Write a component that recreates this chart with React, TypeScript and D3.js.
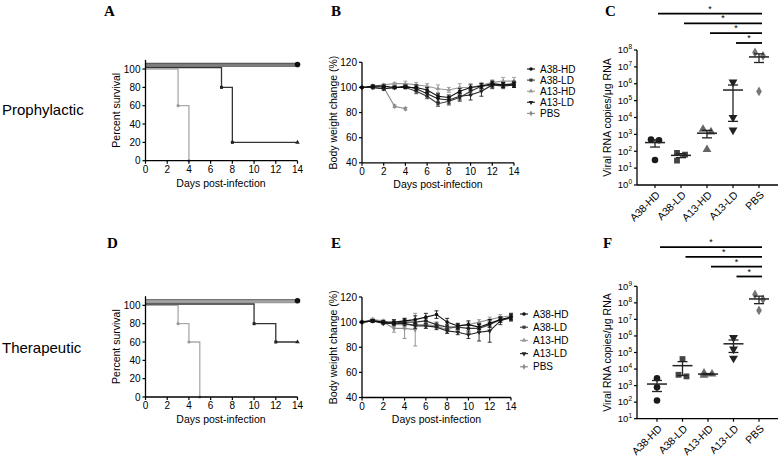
import React from "react";
import * as d3 from "d3";

const groups = ["A38-HD", "A38-LD", "A13-HD", "A13-LD", "PBS"];
const days = [0, 1, 2, 3, 4, 5, 6, 7, 8, 9, 10, 11, 12, 13, 14];
const pbsDaysPro = [0, 1, 2, 3, 4];
const pbsDaysThe = [0, 1, 2, 3, 4, 5];
const dayTicks = [0, 2, 4, 6, 8, 10, 12, 14];
const survivalTicks = [0, 20, 40, 60, 80, 100];
const weightTicks = [40, 60, 80, 100, 120];

// survival steps (day of event, percent alive)
const survAllDays = [0, 14];
const survAllPct = [100, 100];
const survProA13LDDays = [0, 7, 8, 14];
const survProA13LDPct = [100, 80, 20, 20];
const survProPBSDays = [0, 3, 4];
const survProPBSPct = [100, 60, 0];
const survTheA13LDDays = [0, 10, 12, 14];
const survTheA13LDPct = [100, 80, 60, 60];
const survThePBSDays = [0, 3, 4, 5];
const survThePBSPct = [100, 80, 60, 0];

// body weight change (%), prophylactic
const bwProA38HD = [100, 101, 101, 100, 100, 100, 98, 93, 92, 97, 100, 101, 103, 102, 102];
const bwProA38LD = [100, 100, 99, 100, 100, 97, 93, 87, 89, 92, 97, 101, 102, 101, 102];
const bwProA13HD = [100, 101, 102, 103, 103, 102, 101, 99, 98, 100, 100, 102, 104, 105, 105];
const bwProA13LD = [100, 100, 99, 100, 101, 99, 95, 91, 90, 93, 94, 97, 102, 102, 103];
const bwProPBS = [100, 101, 100, 85, 83];
const bwProA38HDErr = [0, 1, 1, 1, 1, 2, 2, 2, 2, 2, 2, 2, 2, 2, 2];
const bwProA38LDErr = [0, 1, 1, 1, 1, 2, 2, 2, 3, 3, 3, 2, 2, 2, 2];
const bwProA13HDErr = [0, 1, 1, 1, 2, 2, 2, 3, 2, 3, 3, 2, 2, 3, 3];
const bwProA13LDErr = [0, 1, 1, 1, 1, 2, 2, 3, 3, 3, 4, 4, 3, 2, 2];
const bwProPBSErr = [0, 1, 1, 1, 1];

// body weight change (%), therapeutic
const bwTheA38HD = [100, 101, 100, 100, 101, 102, 104, 106, 100, 97, 98, 96, 99, 102, 104];
const bwTheA38LD = [100, 101, 100, 99, 100, 100, 101, 98, 96, 96, 95, 95, 98, 102, 103];
const bwTheA13HD = [100, 102, 101, 98, 98, 98, 98, 97, 94, 97, 98, 100, 102, 104, 105];
const bwTheA13LD = [100, 101, 99, 99, 99, 97, 97, 96, 93, 92, 90, 92, 93, 101, 104];
const bwThePBS = [100, 102, 100, 95, 95, 94];
const bwTheA38HDErr = [0, 1, 1, 2, 2, 3, 3, 3, 3, 2, 3, 2, 3, 2, 2];
const bwTheA38LDErr = [0, 1, 1, 2, 2, 2, 2, 2, 2, 2, 3, 3, 2, 2, 2];
const bwTheA13HDErr = [0, 1, 1, 2, 2, 2, 2, 2, 2, 2, 2, 2, 2, 2, 2];
const bwTheA13LDErr = [0, 1, 1, 1, 2, 2, 2, 2, 2, 2, 3, 7, 9, 3, 3];
const bwThePBSErr = [0, 1, 1, 3, 8, 13];

// viral RNA copies/ug RNA, prophylactic
const rnaProA38HD = [500, 450, 30];
const rnaProA38LD = [80, 63, 28];
const rnaProA13HD = [2000, 1400, 126];
const rnaProA13LD = [1260000, 10000, 1800];
const rnaProPBS = [71000000, 45000000, 350000];
// viral RNA copies/ug RNA, therapeutic
const rnaTheA38HD = [2800, 800, 126];
const rnaTheA38LD = [40000, 4500, 3600];
const rnaTheA13HD = [5000, 5600, 4300];
const rnaTheA13LD = [800000, 160000, 45000];
const rnaThePBS = [320000000, 160000000, 35000000];
const proDecades = [0, 1, 2, 3, 4, 5, 6, 7, 8];
const theDecades = [1, 2, 3, 4, 5, 6, 7, 8, 9];
const sigPairs = [["A38-HD", "PBS"], ["A38-LD", "PBS"], ["A13-HD", "PBS"], ["A13-LD", "PBS"]];

const FONT = "'Liberation Sans', Arial, sans-serif";
const groupColors = ["#111", "#3a3a3a", "#9a9a9a", "#222", "#8a8a8a"];
const dotColors = ["#1a1a1a", "#444", "#666", "#222", "#777"];
const groupSymbols = [d3.symbolCircle, d3.symbolSquare, d3.symbolTriangle, d3.symbolTriangle, d3.symbolDiamond];

const sym = (i: number, size: number) => d3.symbol().type(groupSymbols[i]).size(size)() as string;
const symRot = (i: number) => (i === 3 ? " rotate(180)" : "");

function Letter({ x, y, t }: any) {
  return (
    <text x={x} y={y} fontFamily="'Liberation Serif', 'Times New Roman', serif" fontWeight="bold" fontSize={15}>
      {t}
    </text>
  );
}

function DayAxis({ x, y0 }: any) {
  return (
    <g>
      <line x1={x.range()[0]} x2={x.range()[1]} y1={y0} y2={y0} stroke="#000" strokeWidth={1.3} />
      {dayTicks.map(d => (
        <g key={d} transform={`translate(${x(d)},${y0})`}>
          <line y2={3} stroke="#000" strokeWidth={1.2} />
          <text y={12} textAnchor="middle" fontSize={10}>{d}</text>
        </g>
      ))}
    </g>
  );
}

function YAxis({ y, ticks, x0 }: any) {
  const [a, b] = y.range();
  return (
    <g>
      <line x1={x0} x2={x0} y1={a} y2={b} stroke="#000" strokeWidth={1.3} />
      {ticks.map((t: number) => (
        <g key={t} transform={`translate(${x0},${y(t)})`}>
          <line x2={-3} stroke="#000" strokeWidth={1.2} />
          <text x={-5} dy="0.35em" textAnchor="end" fontSize={10}>{t}</text>
        </g>
      ))}
    </g>
  );
}

function SurvivalPanel({ top, a13Days, a13Pct, pbsDays, pbsPct, band }: any) {
  const x = d3.scaleLinear().domain([0, 14]).range([145.5, 297.5]);
  const y = d3.scaleLinear().domain([0, 110]).range([top + 101.7, top + 0.9]);
  const series = [
    { d: survAllDays, p: survAllPct, off: 6, c: band[0], w: 1.5 },
    { d: survAllDays, p: survAllPct, off: 5, c: band[1], w: 1.5 },
    { d: survAllDays, p: survAllPct, off: 4, c: band[2], w: 1.5 },
    { d: survAllDays, p: survAllPct, off: 3, c: band[1], w: 1.5 },
    { d: pbsDays, p: pbsPct, off: 0, c: "#aaa", w: 1.3 },
    { d: a13Days, p: a13Pct, off: 1.5, c: "#333", w: 1.3 },
  ];
  const line = d3.line<number>().curve(d3.curveStepAfter);
  return (
    <g>
      <text transform={`translate(${120},${y(55)}) rotate(-90)`} textAnchor="middle" fontSize={10.5}>
        Percent survival
      </text>
      <text x={221} y={y(0) + 26} textAnchor="middle" fontSize={10.5}>Days post-infection</text>
      {series.map((s, i) => (
        <path
          key={i}
          d={line.x((_, j) => x(s.d[j])).y((_, j) => y(s.p[j] + (s.p[j] === 100 ? s.off : 0)))(s.d) as string}
          fill="none"
          stroke={s.c}
          strokeWidth={s.w}
        />
      ))}
      {pbsDays.slice(1).map((d: number, j: number) => (
        <circle key={"p" + j} cx={x(d)} cy={y(pbsPct[j + 1])} r={1.6} fill="#999" />
      ))}
      {a13Days.slice(1).map((d: number, j: number) => (
        <path
          key={"a" + j}
          transform={`translate(${x(d)},${y(a13Pct[j + 1])})`}
          d={d3.symbol().type(j === a13Days.length - 2 ? d3.symbolTriangle : d3.symbolSquare).size(9)() as string}
          fill="#222"
        />
      ))}
      <circle cx={x(14)} cy={y(105)} r={2.8} fill="#111" />
      <YAxis y={y} ticks={survivalTicks} x0={x(0)} />
      <DayAxis x={x} y0={y(0)} />
    </g>
  );
}

function WeightPanel({ top, x1, data, legendX, legendY, legendStep }: any) {
  const x = d3.scaleLinear().domain([0, 14]).range([362, x1]);
  const y = d3.scaleLinear().domain([40, 120]).range([top + 100.5, top]);
  const line = d3.line<number>();
  const order = [4, 2, 1, 3, 0];
  return (
    <g>
      <text transform={`translate(${337},${y(80)}) rotate(-90)`} textAnchor="middle" fontSize={10.5}>
        Body weight change (%)
      </text>
      <text x={(362 + x1) / 2} y={y(40) + 25} textAnchor="middle" fontSize={10.5}>Days post-infection</text>
      {order.map(i => {
        const s = data[i];
        const c = groupColors[i];
        return (
          <g key={i}>
            {s.v.map((v: number, j: number) => {
              const e = s.e[j];
              if (!e) return null;
              return (
                <g key={j} stroke={c} strokeWidth={0.9}>
                  <line x1={x(s.d[j])} x2={x(s.d[j])} y1={y(v - e)} y2={y(v + e)} />
                  <line x1={x(s.d[j]) - 2} x2={x(s.d[j]) + 2} y1={y(v - e)} y2={y(v - e)} />
                  <line x1={x(s.d[j]) - 2} x2={x(s.d[j]) + 2} y1={y(v + e)} y2={y(v + e)} />
                </g>
              );
            })}
            <path
              d={line.x((_, j) => x(s.d[j])).y(v => y(v))(s.v) as string}
              fill="none"
              stroke={c}
              strokeWidth={1.1}
            />
            {s.v.map((v: number, j: number) => (
              <path key={j} transform={`translate(${x(s.d[j])},${y(v)})${symRot(i)}`} d={sym(i, 10)} fill={c} />
            ))}
          </g>
        );
      })}
      <YAxis y={y} ticks={weightTicks} x0={x(0)} />
      <DayAxis x={x} y0={y(40)} />
      {groups.map((g, i) => (
        <g key={g} transform={`translate(${legendX},${legendY + i * legendStep})`}>
          <line x1={-13} x2={-5} stroke={groupColors[i]} strokeWidth={1.1} />
          <path transform={`translate(-9,0)${symRot(i)}`} d={sym(i, 10)} fill={groupColors[i]} />
          <text dy="0.35em" fontSize={10}>{g}</text>
        </g>
      ))}
    </g>
  );
}

function RnaPanel({ data, decades, yBottom, yTop, xFirst, barBase }: any) {
  const x = d3.scalePoint().domain(groups).range([xFirst, 759]);
  const y = d3
    .scaleLog()
    .domain([Math.pow(10, decades[0]), Math.pow(10, decades[decades.length - 1])])
    .range([yBottom, yTop]);
  const x0 = 637;
  const yMid = (yBottom + yTop) / 2;
  return (
    <g>
      <text transform={`translate(${611},${yMid}) rotate(-90)`} textAnchor="middle" fontSize={10.5}>
        Viral RNA copies/μg RNA
      </text>
      {sigPairs.map((p, k) => {
        const yy = barBase - (sigPairs.length - 1 - k) * 9.8;
        const xa = (x(p[0]) as number) + 3;
        const xb = (x(p[1]) as number) + 3;
        return (
          <g key={k}>
            <line x1={xa} x2={xb} y1={yy} y2={yy} stroke="#000" strokeWidth={1.8} />
            <text x={(xa + xb) / 2} y={yy - 2} textAnchor="middle" fontSize={9}>*</text>
          </g>
        );
      })}
      {groups.map((g, i) => {
        const vals: number[] = data[i];
        const cx = x(g) as number;
        const m = d3.mean(vals) as number;
        const sem = (d3.deviation(vals) as number) / Math.sqrt(vals.length);
        const lo = Math.max(m - sem, y.domain()[0]);
        const sorted = vals.map((v, j) => ({ v, j })).sort((a, b) => b.v - a.v);
        const offs: number[] = vals.map(() => 0);
        for (let k = 1; k < sorted.length; k++) {
          const prev = sorted[k - 1];
          const cur = sorted[k];
          if (Math.abs(y(prev.v) - y(cur.v)) < 6) {
            offs[prev.j] = offs[prev.j] || -4;
            offs[cur.j] = -offs[prev.j] || 4;
          }
        }
        return (
          <g key={g}>
            {vals.map((v, j) => (
              <path
                key={j}
                transform={`translate(${cx + offs[j]},${y(v)})${symRot(i)}`}
                d={sym(i, i === 4 ? 28 : 34)}
                fill={dotColors[i]}
              />
            ))}
            <g stroke="#222" strokeWidth={1.3}>
              <line x1={cx - 10} x2={cx + 10} y1={y(m)} y2={y(m)} strokeWidth={1.5} />
              <line x1={cx} x2={cx} y1={y(lo)} y2={y(m + sem)} />
              <line x1={cx - 5} x2={cx + 5} y1={y(lo)} y2={y(lo)} />
              <line x1={cx - 5} x2={cx + 5} y1={y(m + sem)} y2={y(m + sem)} />
            </g>
          </g>
        );
      })}
      <line x1={x0} x2={x0} y1={yBottom} y2={yTop} stroke="#000" strokeWidth={1.3} />
      {decades.map((e: number) => (
        <g key={e} transform={`translate(${x0},${y(Math.pow(10, e))})`}>
          <line x2={-3} stroke="#000" strokeWidth={1.2} />
          <text x={-5} dy="0.35em" textAnchor="end" fontSize={9.5}>
            10<tspan dy={-4} fontSize={6.5}>{e}</tspan>
          </text>
        </g>
      ))}
      <line x1={x0} x2={778} y1={yBottom} y2={yBottom} stroke="#000" strokeWidth={1.3} />
      {groups.map(g => (
        <g key={g} transform={`translate(${x(g)},${yBottom})`}>
          <line y2={3} stroke="#000" strokeWidth={1.2} />
          <text transform="translate(3,8) rotate(-45)" textAnchor="end" dy="0.35em" fontSize={10.5}>{g}</text>
        </g>
      ))}
    </g>
  );
}

export default function App() {
  const mk = (d: number[], v: number[], e: number[]) => ({ d, v, e });
  const proWeights = [
    mk(days, bwProA38HD, bwProA38HDErr),
    mk(days, bwProA38LD, bwProA38LDErr),
    mk(days, bwProA13HD, bwProA13HDErr),
    mk(days, bwProA13LD, bwProA13LDErr),
    mk(pbsDaysPro, bwProPBS, bwProPBSErr),
  ];
  const theWeights = [
    mk(days, bwTheA38HD, bwTheA38HDErr),
    mk(days, bwTheA38LD, bwTheA38LDErr),
    mk(days, bwTheA13HD, bwTheA13HDErr),
    mk(days, bwTheA13LD, bwTheA13LDErr),
    mk(pbsDaysThe, bwThePBS, bwThePBSErr),
  ];
  return (
    <svg width={780} height={458} style={{ position: "absolute", left: 0, top: 0, background: "#fff" }} fontFamily={FONT}>
      <rect width={780} height={458} fill="#fff" />
      <text x={2} y={115} fontSize={15}>Prophylactic</text>
      <text x={2} y={353} fontSize={15}>Therapeutic</text>

      <Letter x={104} y={16} t="A" />
      <Letter x={331} y={16} t="B" />
      <Letter x={605} y={16} t="C" />
      <Letter x={107} y={248} t="D" />
      <Letter x={331} y={248} t="E" />
      <Letter x={603} y={248} t="F" />

      <SurvivalPanel
        top={59}
        a13Days={survProA13LDDays}
        a13Pct={survProA13LDPct}
        pbsDays={survProPBSDays}
        pbsPct={survProPBSPct}
        band={["#555", "#777", "#888"]}
      />
      <SurvivalPanel
        top={295.3}
        a13Days={survTheA13LDDays}
        a13Pct={survTheA13LDPct}
        pbsDays={survThePBSDays}
        pbsPct={survThePBSPct}
        band={["#777", "#999", "#aaa"]}
      />

      <WeightPanel top={62.3} x1={514} data={proWeights} legendX={540} legendY={69} legendStep={11.1} />
      <WeightPanel top={297} x1={511} data={theWeights} legendX={533} legendY={314} legendStep={13.2} />

      <RnaPanel
        data={[rnaProA38HD, rnaProA38LD, rnaProA13HD, rnaProA13LD, rnaProPBS]}
        decades={proDecades}
        yBottom={185}
        yTop={50}
        xFirst={655}
        barBase={43}
      />
      <RnaPanel
        data={[rnaTheA38HD, rnaTheA38LD, rnaTheA13HD, rnaTheA13LD, rnaThePBS]}
        decades={theDecades}
        yBottom={418.7}
        yTop={286.3}
        xFirst={657}
        barBase={276.5}
      />
    </svg>
  );
}
